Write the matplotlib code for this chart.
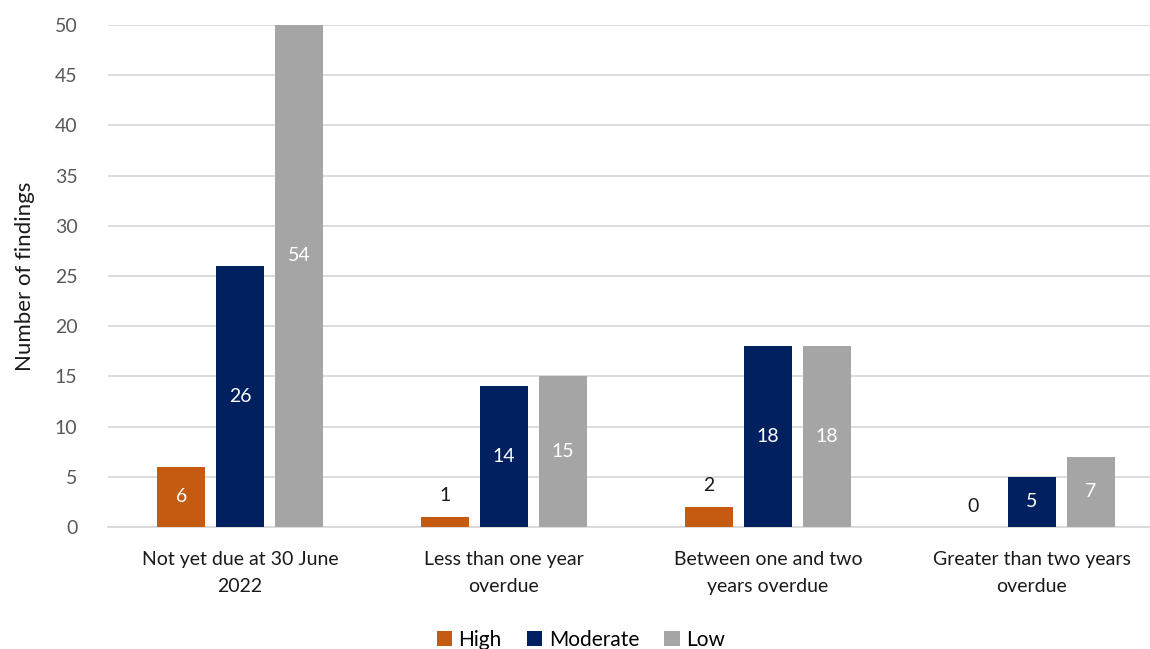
import numpy as np
import matplotlib
matplotlib.use('Agg')
import matplotlib.pyplot as plt

categories = ["Not yet due at 30 June\n2022", "Less than one year\noverdue",
              "Between one and two\nyears overdue", "Greater than two years\noverdue"]
series_names = ["High", "Moderate", "Low"]
high = [6, 1, 2, 0]
moderate = [26, 14, 18, 5]
low = [54, 15, 18, 7]
colors = ["#C55A11", "#002060", "#A5A5A5"]

plt.rcParams['font.family'] = ['Lato', 'DejaVu Sans']

fig = plt.figure(figsize=(11.5, 6.49), dpi=100)
ax = fig.add_axes([108 / 1150, 1 - 527 / 649, 1 - 108 / 1150, (527 - 25) / 649])

x = np.arange(len(categories))
width = 0.182
offset = 0.223
for k, (name, vals, col) in enumerate(zip(series_names, [high, moderate, low], colors)):
    xs = x + (k - 1) * offset
    ax.bar(xs, vals, width=width, color=col, label=name, zorder=3)
    for xi, v in zip(xs, vals):
        if v >= 4:
            ax.text(xi, v / 2, str(v), ha='center', va='center',
                    color='white', fontsize=14, zorder=4)
        else:
            ax.annotate(str(v), (xi, v), xytext=(0, 9), textcoords='offset points',
                        ha='center', va='bottom', color='#1a1a1a', fontsize=14)

ax.set_ylim(0, 50)
ax.set_xlim(-0.5, 3.447)
ax.set_yticks(range(0, 51, 5))
ax.set_xticks(x)
ax.set_xticklabels(categories, fontsize=14, color='#1a1a1a', linespacing=1.75)
ax.tick_params(axis='y', labelsize=14, labelcolor='#595959', length=0, pad=22)
ax.tick_params(axis='x', length=0, pad=17)
ax.grid(axis='y', color='#D9D9D9', linewidth=1.3, zorder=0)
for s in ['top', 'right', 'left']:
    ax.spines[s].set_visible(False)
ax.spines['bottom'].set_color('#D9D9D9')
ax.spines['bottom'].set_linewidth(1.3)
ax.set_ylabel("Number of findings", fontsize=16, color='#1a1a1a', labelpad=14)

fig.legend(loc='lower center', bbox_to_anchor=(0.505, -0.03), ncol=3, frameon=False,
           fontsize=15, handlelength=0.75, handleheight=0.75, handletextpad=0.3,
           columnspacing=1.2)

plt.savefig("out.png", dpi=100)
plt.close()
